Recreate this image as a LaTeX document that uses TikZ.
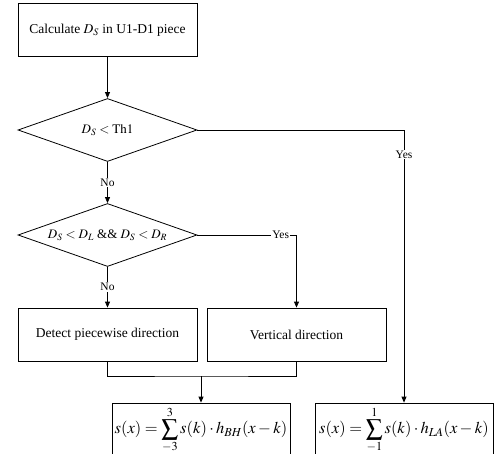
\documentclass[tikz,border=0pt]{standalone}
\usepackage{mathptmx}
\usepackage{fontspec}
\setmainfont{Liberation Serif}
\usetikzlibrary{arrows.meta, shapes.geometric, positioning}

\begin{document}
\begin{tikzpicture}[x=1pt, y=-1pt, line width=0.8pt, >={Triangle[length=6pt,width=5pt]},
    procbox/.style={draw, rectangle, minimum width=179pt, minimum height=53pt, font=\fontsize{13.5}{16}\selectfont},
    decision/.style={draw, diamond, aspect=2.84, minimum width=179pt, minimum height=63pt, inner sep=0pt, font=\fontsize{13}{16}\selectfont},
    formula/.style={draw, rectangle, minimum width=178pt, minimum height=54pt, inner sep=0pt, font=\fontsize{16.5}{19}\selectfont},
    lbl/.style={fill=white, inner sep=1pt, font=\fontsize{11.5}{14}\selectfont}]
        \useasboundingbox (0,0) rectangle (495,454);

        % Start
        \node[procbox] (calc) at (107.5,30) {Calculate $D_S$ in U1-D1 piece};

        % Decisions
        \node[decision] (thr) at (107.5,130) {$D_S < \mathrm{Th1}$};
        \node[decision] (cmp) at (107.5,235) {$D_S < D_L$ \&\& $D_S < D_R$};

        % Directions
        \node[procbox] (detect) at (107.5,334.5) {Detect piecewise direction};
        \node[procbox] (vert) at (296.5,334.5) {Vertical direction};

        % Interpolation
        \node[formula] (bh) at (201,430) {$\displaystyle s(x)=\sum_{-3}^{3} s(k)\cdot h_{BH}(x-k)$};
        \node[formula] (la) at (404,430) {$\displaystyle s(x)=\sum_{-1}^{1} s(k)\cdot h_{LA}(x-k)$};
        \coordinate (join) at (201,376);

        % Edges
        \draw[->] (calc) -- (thr);
        \draw[->] (thr) -- node[lbl] {No} (cmp);
        \draw[->] (thr.east) -| node[lbl, pos=0.545] {Yes} (la.north);
        \draw[->] (cmp) -- node[lbl] {No} (detect);
        \draw[->] (cmp.east) -| node[lbl, pos=0.42] {Yes} (vert.north);
        \draw (detect.south) |- (join) -| (vert.south);
        \draw[->] (join) -- (bh.north);
    \end{tikzpicture}
\end{document}
